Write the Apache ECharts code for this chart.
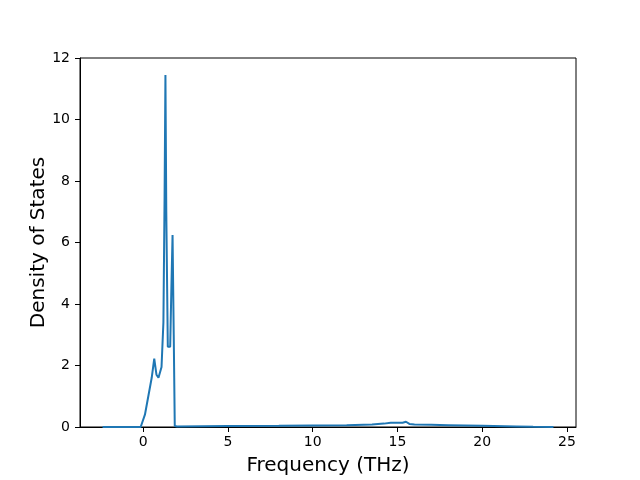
<!DOCTYPE html>
<html><head><meta charset="utf-8">
<script src="https://cdn.jsdelivr.net/npm/echarts@6/dist/echarts.min.js"></script>
<style>html,body{margin:0;padding:0;background:#fff}#c{width:640px;height:480px}</style>
</head><body><div id="c"></div>
<script>
const freq = [-2.4, -1.0, -0.15, 0.1, 0.3, 0.5, 0.65, 0.78, 0.9, 1.0, 1.08, 1.19, 1.26, 1.31, 1.36, 1.45, 1.59, 1.66, 1.73, 1.8, 1.86, 2.0, 5.0, 8.0, 10.0, 12.0, 13.5, 14.2, 14.6, 15.0, 15.3, 15.5, 15.7, 16.0, 17.0, 18.0, 20.0, 22.0, 23.0, 24.2];
const dos  = [0.0, 0.0, 0.0, 0.4, 1.0, 1.6, 2.22, 1.7, 1.6, 1.65, 1.95, 3.4, 7.5, 11.45, 7.0, 2.61, 2.61, 4.5, 6.24, 3.0, 0.03, 0.02, 0.03, 0.04, 0.05, 0.06, 0.08, 0.11, 0.14, 0.14, 0.14, 0.17, 0.1, 0.08, 0.07, 0.06, 0.04, 0.02, 0.01, 0.0];
const xTicks = [0, 5, 10, 15, 20, 25];
const yTicks = [0, 2, 4, 6, 8, 10, 12];

const chart = echarts.init(document.getElementById('c'), null, {renderer: 'canvas'});
const font = 'DejaVu Sans';
chart.setOption({
  animation: false,
  grid: {left: 80, right: 64, top: 58, bottom: 53, show: true, borderColor: '#000', borderWidth: 1, containLabel: false, outerBoundsMode: 'none'},
  xAxis: {
    type: 'value', min: -3.73, max: 25.53,
    name: 'Frequency (THz)', nameLocation: 'middle', nameGap: 29, nameMoveOverlap: false,
    nameTextStyle: {fontFamily: font, fontSize: 20, color: '#000'},
    axisLine: {show: true, onZero: false, lineStyle: {color: '#000', width: 1}},
    axisTick: {show: true, inside: false, length: 5, customValues: xTicks, lineStyle: {color: '#000'}},
    axisLabel: {customValues: xTicks, fontFamily: font, fontSize: 14, color: '#000', margin: 8},
    splitLine: {show: false}
  },
  yAxis: {
    type: 'value', min: 0, max: 12, interval: 2,
    name: 'Density of States', nameLocation: 'middle', nameGap: 31, nameMoveOverlap: false,
    nameTextStyle: {fontFamily: font, fontSize: 20, color: '#000'},
    axisLine: {show: true, onZero: false, lineStyle: {color: '#000', width: 1}},
    axisTick: {show: true, inside: false, length: 5, lineStyle: {color: '#000'}},
    axisLabel: {fontFamily: font, fontSize: 14, color: '#000', margin: 10},
    splitLine: {show: false}
  },
  series: [{
    type: 'line', showSymbol: false, symbol: 'none',
    data: freq.map((f, i) => [f, dos[i]]),
    lineStyle: {color: '#1f77b4', width: 2},
    clip: true
  }]
});
</script></body></html>
